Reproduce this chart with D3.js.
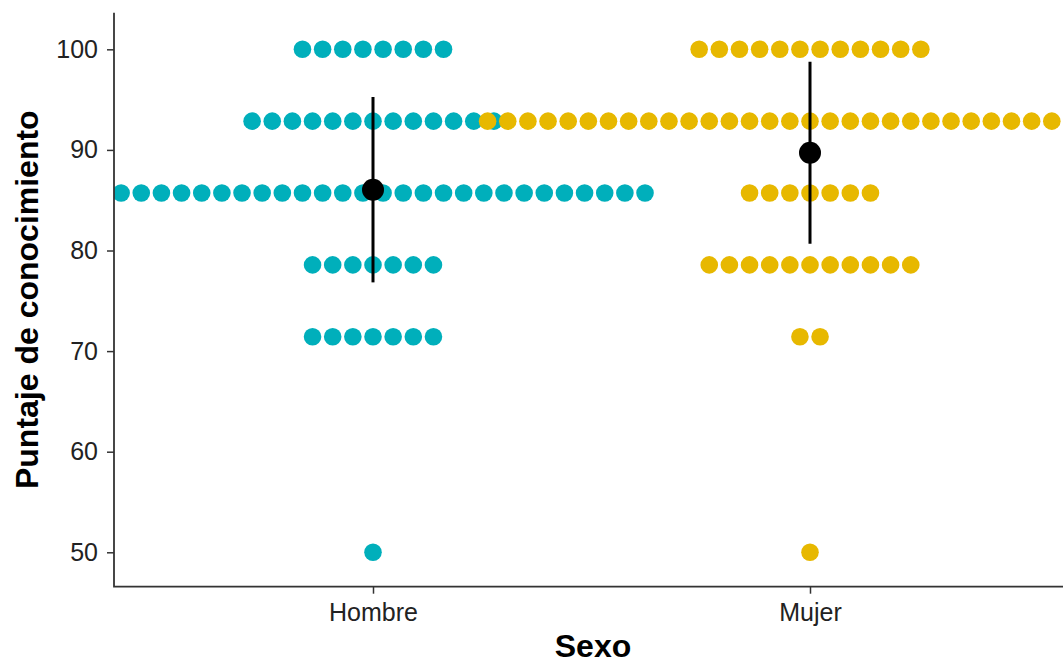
<!DOCTYPE html>
<html><head><meta charset="utf-8">
<script src="https://cdn.jsdelivr.net/npm/d3@7"></script>
<style>body{margin:0;background:#fff}svg{display:block}text{font-family:"Liberation Sans",Arial,sans-serif}</style>
</head><body>
<svg id="chart" width="1063" height="663"></svg>
<script>
// Data
const categories = ["Hombre", "Mujer"];
const scoreLevels = [50, 71.43, 78.57, 85.71, 92.86, 100];
const hombreCounts = [1, 7, 7, 28, 13, 8];
const mujerCounts = [1, 2, 11, 7, 33, 12];
const yTicks = [50, 60, 70, 80, 90, 100];
const colors = ["#00AFBB", "#E7B800"];

const W = 1063, H = 663;
const panel = {left: 114, top: 12.7, bottom: 586.7, right: 1063};
const svg = d3.select("#chart");

const x = d3.scaleLinear().domain([1, 2]).range([373, 810]);
const y = d3.scaleLinear().domain([46.58, 103.64]).range([panel.bottom, panel.top]);
const dotR = 8.8;
const pxPerUnit = x(2) - x(1);
const dotStep = 20.15 / pxPerUnit; // horizontal stacking step in x-units

svg.append("defs").append("clipPath").attr("id", "clip")
  .append("rect").attr("x", panel.left).attr("y", panel.top)
  .attr("width", panel.right - panel.left).attr("height", panel.bottom - panel.top);

const groups = [hombreCounts, mujerCounts];
const dots = [];
groups.forEach((counts, gi) => {
  counts.forEach((n, li) => {
    for (let k = 0; k < n; k++) {
      dots.push({g: gi, xv: gi + 1 + (k - (n - 1) / 2) * dotStep, yv: scoreLevels[li]});
    }
  });
});

const plot = svg.append("g").attr("clip-path", "url(#clip)");
plot.selectAll("circle.dot").data(dots).join("circle")
  .attr("class", "dot")
  .attr("cx", d => x(d.xv)).attr("cy", d => y(d.yv)).attr("r", dotR)
  .attr("fill", d => colors[d.g]);

// mean ± sd
const stats = groups.map((counts, gi) => {
  const vals = [];
  counts.forEach((n, li) => { for (let k = 0; k < n; k++) vals.push(scoreLevels[li]); });
  const m = d3.mean(vals), s = d3.deviation(vals);
  return {g: gi, mean: m, lo: m - s, hi: m + s};
});
plot.selectAll("line.err").data(stats).join("line")
  .attr("x1", d => x(d.g + 1)).attr("x2", d => x(d.g + 1))
  .attr("y1", d => y(d.lo)).attr("y2", d => y(d.hi))
  .attr("stroke", "#000").attr("stroke-width", 3);
plot.selectAll("circle.mean").data(stats).join("circle")
  .attr("cx", d => x(d.g + 1)).attr("cy", d => y(d.mean)).attr("r", 11).attr("fill", "#000");

// axes
const yAxis = d3.axisLeft(y).tickValues(yTicks).tickSize(7).tickPadding(9).tickSizeOuter(0);
const gy = svg.append("g").attr("transform", `translate(${panel.left},0)`).call(yAxis);
gy.select(".domain").remove();
gy.selectAll(".tick line").attr("stroke", "#333").attr("stroke-width", 1.5);
gy.selectAll(".tick text").attr("font-size", 25).attr("fill", "#222")
  .attr("font-family", '"Liberation Sans",Arial,sans-serif');

const xAxis = d3.axisBottom(x).tickValues([1, 2]).tickFormat(d => categories[d - 1])
  .tickSize(7).tickPadding(10).tickSizeOuter(0);
const gx = svg.append("g").attr("transform", `translate(0,${panel.bottom})`).call(xAxis);
gx.select(".domain").remove();
gx.selectAll(".tick line").attr("stroke", "#333").attr("stroke-width", 1.5);
gx.selectAll(".tick text").attr("font-size", 25).attr("fill", "#222")
  .attr("font-family", '"Liberation Sans",Arial,sans-serif');

svg.append("path")
  .attr("d", `M${panel.left},${panel.top}V${panel.bottom}H${panel.right}`)
  .attr("fill", "none").attr("stroke", "#333").attr("stroke-width", 1.8);

svg.append("text").attr("x", 593).attr("y", 657)
  .attr("text-anchor", "middle").attr("font-size", 32).attr("font-weight", "bold")
  .attr("fill", "#000").text("Sexo");
svg.append("text").attr("transform", `translate(38,${(panel.top + panel.bottom) / 2}) rotate(-90)`)
  .attr("text-anchor", "middle").attr("font-size", 32).attr("font-weight", "bold")
  .attr("fill", "#000").text("Puntaje de conocimiento");
</script>
</body></html>
